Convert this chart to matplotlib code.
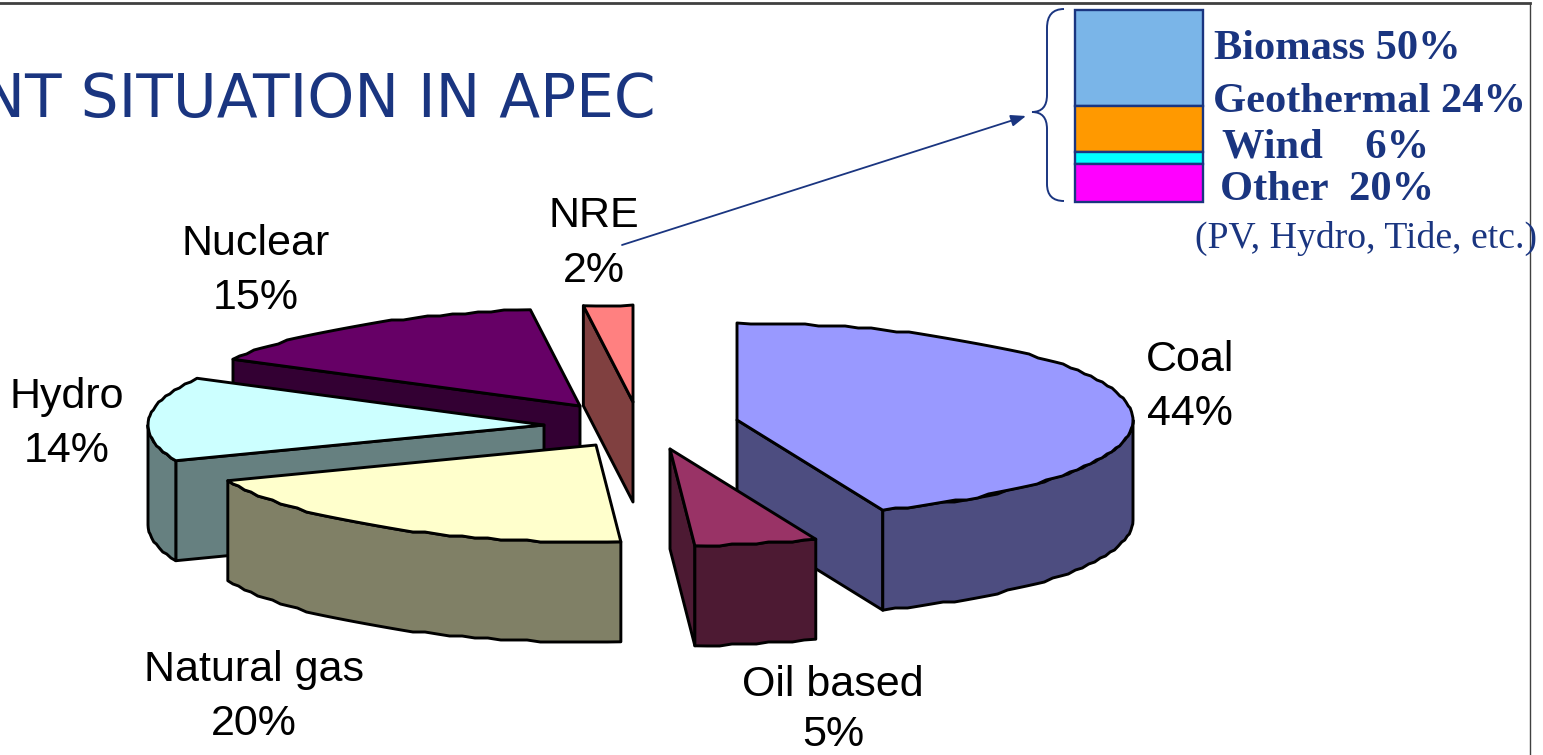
import numpy as np
import matplotlib
matplotlib.use("Agg")
import matplotlib.pyplot as plt
from matplotlib.patches import PathPatch, Polygon
from matplotlib.path import Path

# --- Data ---
sources = ["Coal", "Oil based", "Natural gas", "Hydro", "Nuclear", "NRE"]
shares = [44, 5, 20, 14, 15, 2]
nre_sources = ["Biomass", "Geothermal", "Wind", "Other"]
nre_shares = [50, 24, 6, 20]

# --- Styles ---
top_colors = ["#9999ff", "#993366", "#ffffcc", "#ccffff", "#660066", "#ff8080"]
wall_colors = ["#4d4d80", "#4d1a33", "#808066", "#668080", "#330033", "#804040"]
nre_colors = ["#7ab5e8", "#ff9900", "#00ffff", "#ff00ff"]
navy = "#1a3580"

# apex of each exploded slice, in figure pixels
apex_x = [737, 670, 596, 544, 580, 633]
apex_y = [420, 449, 445, 425, 406, 402]
label_x = [1190, 833, 254, 67, 256, 594]
label_y = [360, 685, 670, 397, 244, 216]
pct_y = [414, 735, 724, 451, 298, 271]

rx, ry = 396, 97  # pie ellipse
depth = 100
step_px = 2  # outlines come out slightly stepped


def arc(cx, cy, t0, t1):
    # t measured clockwise from 12 o'clock, in degrees
    n = max(int((t1 - t0) / 2) + 2, 3)
    t = np.linspace(t0, t1, n)
    x = cx + rx * np.sin(np.radians(t))
    y = cy - ry * np.cos(np.radians(t))
    y[1:-1] = np.round(y[1:-1] / step_px) * step_px
    return np.column_stack([x, y])


def draw_slice(ax, cx, cy, t0, t1, top, wall):
    outline = arc(cx, cy, t0, t1)
    down = np.array([0, depth])
    apex = np.array([cx, cy])
    style = dict(edgecolor="black", lw=2.1, joinstyle="round")

    # radial walls that face the viewer
    if 180 < t0 < 360:
        ax.add_patch(Polygon([outline[0], apex, apex + down, outline[0] + down],
                             facecolor=wall, **style))
    if 90 < t1 < 180:
        ax.add_patch(Polygon([apex, outline[-1], outline[-1] + down, apex + down],
                             facecolor=wall, **style))
    # outer rim, front half only
    lo, hi = max(t0, 90), min(t1, 270)
    if lo < hi:
        rim = arc(cx, cy, lo, hi)
        ax.add_patch(Polygon(np.vstack([rim, rim[::-1] + down]), facecolor=wall, **style))
    ax.add_patch(Polygon(np.vstack([apex, outline]), facecolor=top, **style))


fig = plt.figure(figsize=(15.43, 7.55), dpi=100)
ax = fig.add_axes([0, 0, 1, 1])
ax.set_xlim(0, 1543)
ax.set_ylim(755, 0)
ax.axis("off")

# Slide frame
ax.plot([0, 1530], [3, 3], color="#404040", lw=2)
ax.plot([1530, 1530], [3, 755], color="#404040", lw=1)

ax.text(656, 100, "CURRENT SITUATION IN APEC", family="DejaVu Sans", fontsize=43,
        color=navy, ha="right", va="center")

# --- Pie ---
ends = np.cumsum(shares) * 3.6
starts = ends - np.array(shares) * 3.6
for i in [5, 4, 3, 2, 0, 1]:  # back to front
    draw_slice(ax, apex_x[i], apex_y[i], starts[i], ends[i], top_colors[i], wall_colors[i])

for i, name in enumerate(sources):
    ax.text(label_x[i], label_y[i], name, family="Liberation Sans", fontsize=31,
            ha="center", va="center", color="black")
    ax.text(label_x[i], pct_y[i], f"{shares[i]}%", family="Liberation Sans", fontsize=31,
            ha="center", va="center", color="black")

# --- NRE breakdown ---
bar_top, bar_h = 10, 192
bottom = bar_top
for share, color in zip(nre_shares, nre_colors):
    h = share / sum(nre_shares) * bar_h
    ax.bar(1139, h, width=128, bottom=bottom, align="center", color=color,
           edgecolor=navy, lw=1.7)
    bottom += h

text_x = [1214, 1213, 1222, 1220]
text_y = [49, 102, 147, 190]
gaps = [" ", " ", "    ", "  "]
for i, name in enumerate(nre_sources):
    ax.text(text_x[i], text_y[i], f"{name}{gaps[i]}{nre_shares[i]}%", family="Liberation Serif",
            weight="bold", fontsize=30.6, color=navy, ha="left", va="center")
ax.text(1195, 238, "(PV, Hydro, Tide, etc.)", family="Liberation Serif", fontsize=27.2,
        color=navy, ha="left", va="center")

# Curly brace around the breakdown
brace = Path(
    [(1064, 9), (1047, 9), (1047, 28), (1047, 95), (1047, 112), (1032, 112),
     (1047, 112), (1047, 129), (1047, 184), (1047, 201), (1064, 201)],
    [Path.MOVETO, Path.CURVE3, Path.CURVE3, Path.LINETO, Path.CURVE3, Path.CURVE3,
     Path.CURVE3, Path.CURVE3, Path.LINETO, Path.CURVE3, Path.CURVE3],
)
ax.add_patch(PathPatch(brace, facecolor="none", edgecolor=navy, lw=1.4))

# Arrow from the NRE slice to the breakdown
ax.annotate("", xy=(1026, 116), xytext=(622, 245),
            arrowprops=dict(arrowstyle="-|>,head_length=0.9,head_width=0.35",
                            color=navy, lw=1.3, shrinkA=0, shrinkB=0))

fig.savefig("out.png", dpi=100)
